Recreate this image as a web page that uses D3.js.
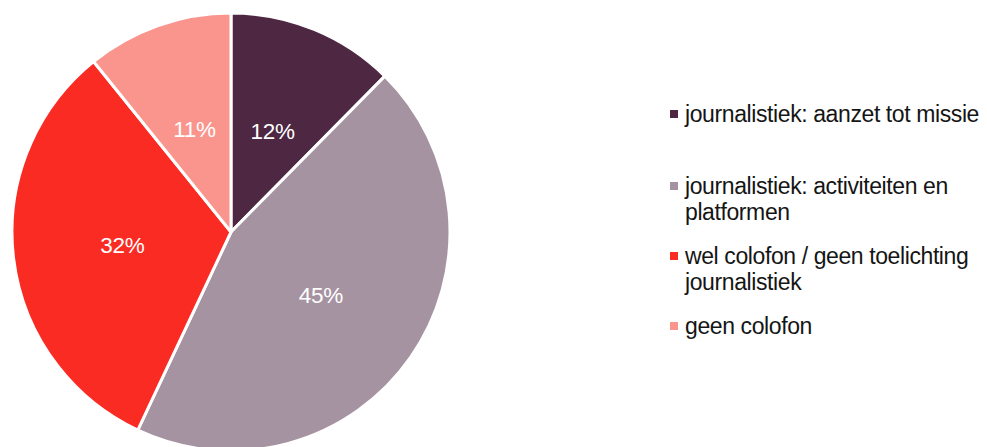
<!DOCTYPE html>
<html><head><meta charset="utf-8">
<script src="https://cdn.jsdelivr.net/npm/d3@7"></script>
<style>body{margin:0;background:#fff;} svg{display:block;}</style>
</head><body>
<svg id="c" width="987" height="447"></svg>
<script>
const categories = ["journalistiek: aanzet tot missie","journalistiek: activiteiten en platformen","wel colofon / geen toelichting journalistiek","geen colofon"];
const legendLines = [["journalistiek: aanzet tot missie"],["journalistiek: activiteiten en","platformen"],["wel colofon / geen toelichting","journalistiek"],["geen colofon"]];
const values = [12.4, 44.6, 32.2, 10.8];
const colors = ["#4e2742","#a693a2","#fa2b22","#fa958e"];

const svg = d3.select("#c");
const cx = 231, cy = 232, R = 219;
const pie = d3.pie().sort(null).value(d=>d);
const arcs = pie(values);
const arc = d3.arc().innerRadius(0).outerRadius(R);
const labelArc = d3.arc().innerRadius(R*0.5).outerRadius(R*0.5);
const g = svg.append("g").attr("transform",`translate(${cx},${cy})`);
g.selectAll("path").data(arcs).join("path")
  .attr("d",arc).attr("fill",(d,i)=>colors[i])
  .attr("stroke","#fff").attr("stroke-width",3).attr("stroke-linejoin","round");
g.selectAll("text").data(arcs).join("text")
  .attr("transform",d=>`translate(${labelArc.centroid(d)})`)
  .attr("text-anchor","middle").attr("dy","0.35em")
  .attr("fill","#fff").attr("font-family","'Liberation Sans', Arial, sans-serif")
  .attr("font-size",22.5).attr("letter-spacing","-0.3")
  .text(d=>Math.round(d.data)+"%");

const legendY = [114, 186, 256, 326];
const lg = svg.append("g");
legendLines.forEach((lines,i)=>{
  lg.append("rect").attr("x",670).attr("y",legendY[i]-4).attr("width",8).attr("height",8).attr("fill",colors[i]);
  const t = lg.append("text").attr("x",685).attr("y",legendY[i])
    .attr("font-family","'Liberation Sans', Arial, sans-serif").attr("font-size",23)
    .attr("letter-spacing","-0.4").attr("fill","#151515");
  lines.forEach((l,j)=>{
    t.append("tspan").attr("x",685).attr("dy", j===0 ? "0.35em" : 26).text(l);
  });
});
</script>
</body></html>
